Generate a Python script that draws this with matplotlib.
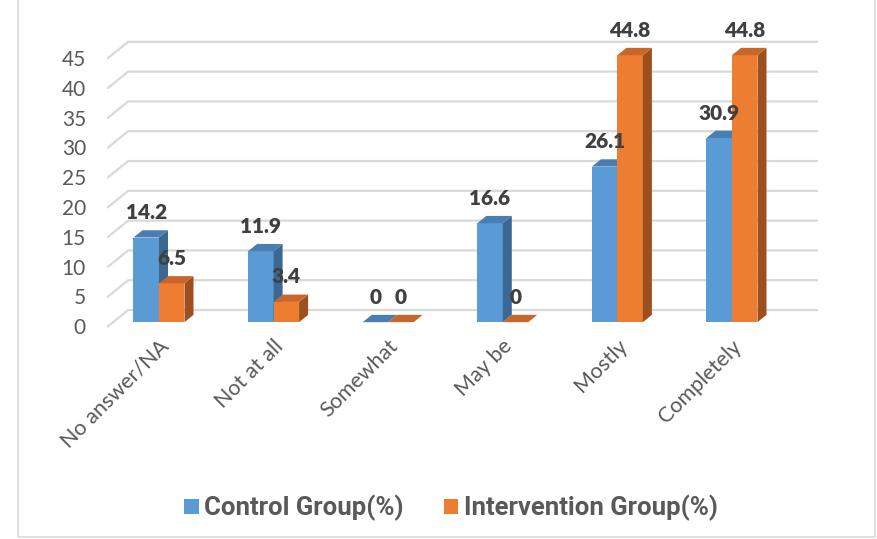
import matplotlib.pyplot as plt
from matplotlib.patches import Polygon, Rectangle, Patch

categories = ["No answer/NA", "Not at all", "Somewhat", "May be", "Mostly", "Completely"]
control = [14.2, 11.9, 0, 16.6, 26.1, 30.9]
intervention = [6.5, 3.4, 0, 0, 44.8, 44.8]
yticks = [0, 5, 10, 15, 20, 25, 30, 35, 40, 45]
series_names = ["Control Group(%)", "Intervention Group(%)"]

# colours: front, top, side
blue = ("#5B9BD5", "#4A7EB2", "#3B6793")
orange = ("#ED7D31", "#C9672A", "#9D4F1E")

# pseudo 3d geometry (data units)
DX = 0.183     # full depth shift in x
DY = 2.85      # full depth shift in y
Z0, Z1 = 0.285, 0.715   # bar depth range
BW = 0.2225
X_LEFT, X_RIGHT = -0.40, 5.62

W, H = 878, 539
fig = plt.figure(figsize=(W / 100, H / 100), dpi=100)
ax = fig.add_axes([0, 0, 1, 1])
ax.set_xlim(-153 / 114.6, (W - 153) / 114.6)
ax.set_ylim(-(H - 327) / 5.96, 327 / 5.96)
ax.axis('off')


def pt(x, v, z):
    return (x + z * DX, v + z * DY)


# back wall grid + left diagonals
for t in yticks:
    ax.plot([pt(X_LEFT, t, 0)[0], pt(X_LEFT, t, 1)[0], pt(X_RIGHT, t, 1)[0]],
            [pt(X_LEFT, t, 0)[1], pt(X_LEFT, t, 1)[1], pt(X_RIGHT, t, 1)[1]],
            color="#D9D9D9", lw=1.6, solid_capstyle='butt', zorder=1)
    ax.text(-0.585, t - 0.2, str(t), ha='right', va='center', fontsize=15,
            color="#595959", family="Lato")


def bar3d(x0, x1, v, cols, z=2):
    front, top, side = cols
    if v > 0:
        ax.add_patch(Rectangle(pt(x0, 0, Z0), x1 - x0, v, fc=front, ec='none', zorder=z))
        ax.add_patch(Polygon([pt(x1, 0, Z0), pt(x1, v, Z0), pt(x1, v, Z1), pt(x1, 0, Z1)],
                             closed=True, fc=side, ec='none', zorder=z))
    ax.add_patch(Polygon([pt(x0, v, Z0), pt(x1, v, Z0), pt(x1, v, Z1), pt(x0, v, Z1)],
                         closed=True, fc=top, ec='none', zorder=z))


for i in range(len(categories)):
    bar3d(i - BW, i, control[i], blue, z=2 + i * 0.1)
    bar3d(i, i + BW, intervention[i], orange, z=2.05 + i * 0.1)

# data labels
for i in range(len(categories)):
    for val, xc in ((control[i], i - BW / 2), (intervention[i], i + BW / 2)):
        lab = "%g" % val
        ax.text(xc + Z0 * DX, val + 5.0, lab, ha='center', va='center',
                fontsize=15, fontweight='heavy', color="#404040", family="Lato", zorder=5)

# category labels
for i, c in enumerate(categories):
    ax.text(i + 0.11, -2.7, c, rotation=45, rotation_mode='anchor', ha='right',
            va='center', fontsize=15.5, color="#595959", family="Lato")

# chart border
fig.add_artist(Rectangle((18 / W, 2 / H), (875 - 18) / W, 1.1, transform=fig.transFigure,
                         fill=False, ec="#D9D9D9", lw=1.2))

handles = [Patch(fc=blue[0], ec='none'), Patch(fc=orange[0], ec='none')]
fig.legend(handles, series_names, loc='center', bbox_to_anchor=(451 / W, 1 - 508 / H),
           ncol=2, frameon=False, handlelength=0.55, handleheight=0.55, handletextpad=0.2,
           columnspacing=1.6,
           prop={'family': ['Liberation Sans Narrow', 'Roboto'],
                 'weight': 'bold', 'size': 18.5},
           labelcolor="#595959")

plt.savefig("out.png", dpi=100)
